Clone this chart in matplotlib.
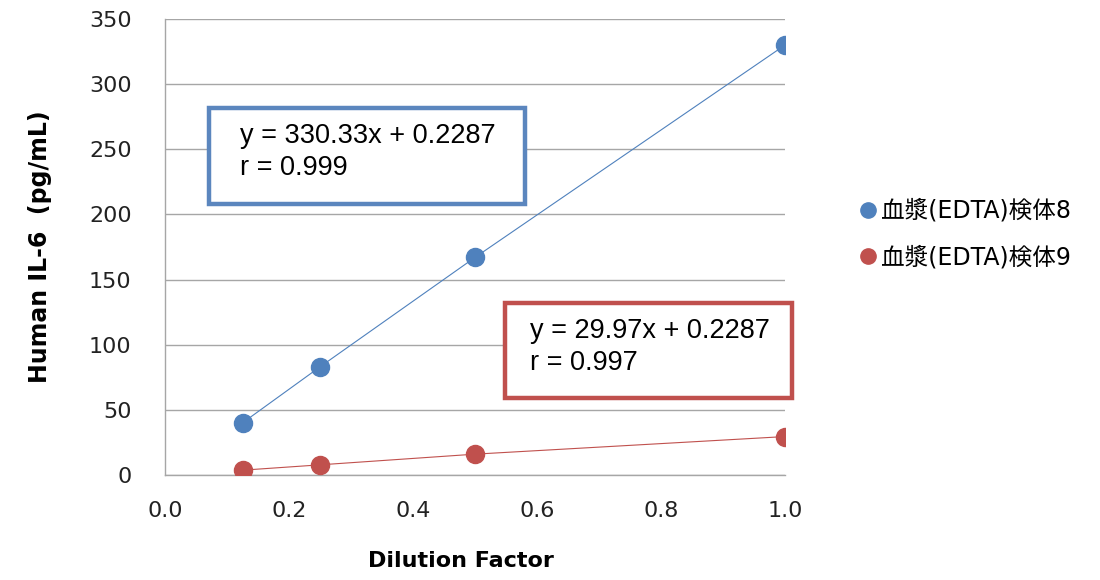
import matplotlib
matplotlib.use("Agg")
import matplotlib.pyplot as plt
from matplotlib.patches import Rectangle

# data
dilution = [0.125, 0.25, 0.5, 1.0]
sample8 = [40, 83, 167, 330]
sample9 = [3.7, 7.8, 16.0, 29.5]
labels = ["血漿(EDTA)検体8", "血漿(EDTA)検体9"]
eq8 = "y = 330.33x + 0.2287\nr = 0.999"
eq9 = "y = 29.97x + 0.2287\nr = 0.997"

blue = "#4F81BD"
red = "#C0504D"
grid = "#A6A6A6"
fam = ["DejaVu Sans", "Noto Sans CJK JP"]

fig = plt.figure(figsize=(11, 5.8), dpi=100)
ax = fig.add_axes([165 / 1100, 1 - 475 / 580, 620 / 1100, 456 / 580])

ax.plot(dilution, sample8, color=blue, lw=0.8, marker="o", ms=13,
        mec=blue, mfc=blue, label=labels[0], zorder=3)
ax.plot(dilution, sample9, color=red, lw=0.8, marker="o", ms=13,
        mec=red, mfc=red, label=labels[1], zorder=3)

ax.set_xlim(0, 1.0)
ax.set_ylim(0, 350)
ax.set_xticks([0, 0.2, 0.4, 0.6, 0.8, 1.0])
ax.set_xticklabels(["0.0", "0.2", "0.4", "0.6", "0.8", "1.0"])
ax.set_yticks(range(0, 351, 50))
ax.tick_params(axis="both", length=0, labelsize=16, colors="#222222")
ax.tick_params(axis="y", pad=24)
ax.tick_params(axis="x", pad=19)
ax.yaxis.grid(True, color=grid, lw=1)
ax.set_axisbelow(True)
for s in ["top", "right"]:
    ax.spines[s].set_visible(False)
for s in ["left", "bottom"]:
    ax.spines[s].set_color(grid)
    ax.spines[s].set_linewidth(1)

ax.set_xlabel("Dilution Factor", fontsize=16, fontweight="bold")
ax.xaxis.set_label_coords((461 - 165) / 620, -(551 - 475) / 456)
ax.set_ylabel("Human IL-6  (pg/mL)", fontsize=17, fontweight="bold")
ax.yaxis.set_label_coords(-(165 - 52) / 620, 0.5)

# equation boxes
ax.add_patch(Rectangle((0.071, 0.594), 0.510, 0.211, transform=ax.transAxes,
                       fc="white", ec="#5B86BE", lw=3.2, zorder=4, clip_on=False))
ax.text(0.121, 0.708, eq8, transform=ax.transAxes, fontsize=19.5,
        family="Liberation Sans", va="center", ha="left", linespacing=1.3, zorder=5)
ax.add_patch(Rectangle((0.548, 0.169), 0.463, 0.208, transform=ax.transAxes,
                       fc="white", ec=red, lw=3.2, zorder=4, clip_on=False))
ax.text(0.589, 0.280, eq9, transform=ax.transAxes, fontsize=19.5,
        family="Liberation Sans", va="center", ha="left", linespacing=1.3, zorder=5)

leg = fig.legend(loc="center left", bbox_to_anchor=(840 / 1100, 1 - 234 / 580),
                 frameon=False, handlelength=0.6, handletextpad=0.25,
                 labelspacing=0.95, prop={"family": fam, "size": 17})
for h in leg.legend_handles:
    h.set_markersize(11)
    h.set_linestyle("none")

fig.savefig("out.png", dpi=100)
